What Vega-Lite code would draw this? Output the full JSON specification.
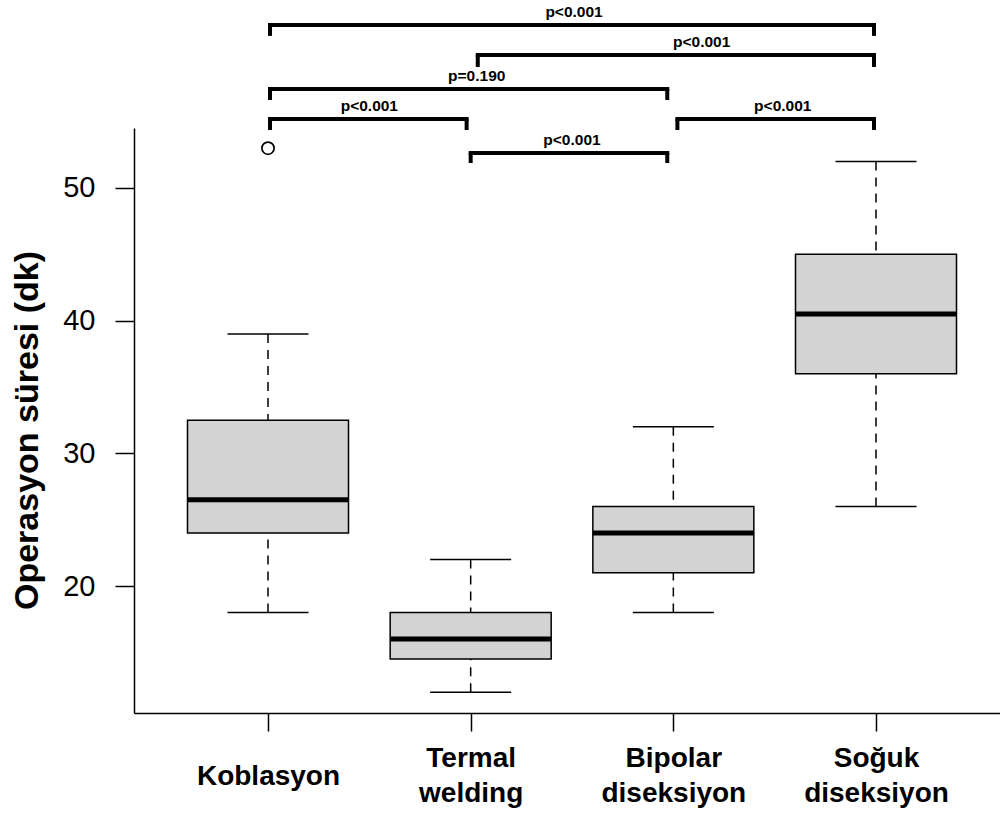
{
  "$schema": "https://vega.github.io/schema/vega-lite/v6.json",
  "width": 866,
  "height": 585,
  "autosize": {"type": "none"},
  "padding": {"left": 134, "top": 128, "right": 0, "bottom": 100},
  "background": "white",
  "config": {
    "view": {"stroke": null},
    "font": "Liberation Sans",
    "axisX": {
      "grid": false,
      "tickSize": 18,
      "tickColor": "black",
      "tickWidth": 1.5,
      "domainColor": "black",
      "domainWidth": 1.5,
      "labelFont": "Liberation Sans",
      "labelFontWeight": "bold",
      "labelFontSize": 28,
      "labelColor": "black",
      "labelLineHeight": 35,
      "labelBaseline": "middle",
      "labelFlush": false,
      "labelOverlap": false
    },
    "axisY": {
      "grid": false,
      "tickSize": 19,
      "tickColor": "black",
      "tickWidth": 1.5,
      "domainColor": "black",
      "domainWidth": 1.5,
      "labelFont": "Liberation Sans",
      "labelFontSize": 29,
      "labelColor": "black",
      "labelPadding": 20,
      "labelFlush": false,
      "titleFont": "Liberation Sans",
      "titleFontSize": 34,
      "titleFontWeight": "bold",
      "titleColor": "black",
      "titlePadding": 18
    }
  },
  "datasets": {
    "kutular": [
      {"grup": "Koblasyon", "pos": 1, "alt": 18, "q1": 24, "medyan": 26.5, "q3": 32.5, "ust": 39},
      {"grup": "Termal welding", "pos": 2, "alt": 12, "q1": 14.5, "medyan": 16, "q3": 18, "ust": 22},
      {"grup": "Bipolar diseksiyon", "pos": 3, "alt": 18, "q1": 21, "medyan": 24, "q3": 26, "ust": 32},
      {"grup": "Soğuk diseksiyon", "pos": 4, "alt": 26, "q1": 36, "medyan": 40.5, "q3": 45, "ust": 52}
    ],
    "aykiri": [
      {"grup": "Koblasyon", "pos": 1, "deger": 53}
    ],
    "karsilastirma": [
      {"x1": 1.01, "x2": 3.99, "h": 62.29, "uc": 61.46, "etiket": "p<0.001", "tx": 2.51},
      {"x1": 2.035, "x2": 3.99, "h": 60.02, "uc": 59.12, "etiket": "p<0.001", "tx": 3.14},
      {"x1": 1.01, "x2": 2.97, "h": 57.46, "uc": 56.63, "etiket": "p=0.190", "tx": 2.03},
      {"x1": 1.01, "x2": 1.98, "h": 55.2, "uc": 54.37, "etiket": "p<0.001", "tx": 1.5},
      {"x1": 2.0, "x2": 2.97, "h": 52.64, "uc": 51.88, "etiket": "p<0.001", "tx": 2.5},
      {"x1": 3.02, "x2": 3.99, "h": 55.2, "uc": 54.37, "etiket": "p<0.001", "tx": 3.54}
    ]
  },
  "layer": [
    {
      "data": {"name": "kutular"},
      "mark": {"type": "rule", "color": "black", "strokeWidth": 1.5, "strokeDash": [9, 7]},
      "encoding": {
        "x": {"field": "pos", "type": "quantitative", "title": null, "scale": {"domain": [0.3388, 4.6118], "nice": false, "zero": false, "padding": 0},
              "axis": {"values": [1, 2, 3, 4],
                       "labelPadding": {"condition": {"test": "datum.value == 1", "value": 45}, "value": 27},
                       "labelExpr": "datum.value == 1 ? 'Koblasyon' : datum.value == 2 ? ['Termal', 'welding'] : datum.value == 3 ? ['Bipolar', 'diseksiyon'] : ['Soğuk', 'diseksiyon']"}},
        "y": {"field": "alt", "type": "quantitative", "title": "Operasyon süresi (dk)", "scale": {"domain": [10.43, 54.52], "nice": false, "zero": false, "padding": 0},
              "axis": {"values": [20, 30, 40, 50], "titleY": 302}},
        "y2": {"field": "q1"}
      }
    },
    {
      "data": {"name": "kutular"},
      "mark": {"type": "rule", "color": "black", "strokeWidth": 1.5, "strokeDash": [9, 7]},
      "encoding": {
        "x": {"field": "pos", "type": "quantitative", "title": null, "scale": {"domain": [0.3388, 4.6118], "nice": false, "zero": false, "padding": 0}},
        "y": {"field": "ust", "type": "quantitative", "title": "Operasyon süresi (dk)", "scale": {"domain": [10.43, 54.52], "nice": false, "zero": false, "padding": 0}},
        "y2": {"field": "q3"}
      }
    },
    {
      "data": {"name": "kutular"},
      "mark": {"type": "tick", "orient": "horizontal", "size": 81, "thickness": 1.5, "color": "black", "opacity": 1},
      "encoding": {
        "x": {"field": "pos", "type": "quantitative", "title": null, "scale": {"domain": [0.3388, 4.6118], "nice": false, "zero": false, "padding": 0}},
        "y": {"field": "alt", "type": "quantitative", "title": "Operasyon süresi (dk)", "scale": {"domain": [10.43, 54.52], "nice": false, "zero": false, "padding": 0}}
      }
    },
    {
      "data": {"name": "kutular"},
      "mark": {"type": "tick", "orient": "horizontal", "size": 81, "thickness": 1.5, "color": "black", "opacity": 1},
      "encoding": {
        "x": {"field": "pos", "type": "quantitative", "title": null, "scale": {"domain": [0.3388, 4.6118], "nice": false, "zero": false, "padding": 0}},
        "y": {"field": "ust", "type": "quantitative", "title": "Operasyon süresi (dk)", "scale": {"domain": [10.43, 54.52], "nice": false, "zero": false, "padding": 0}}
      }
    },
    {
      "data": {"name": "kutular"},
      "mark": {"type": "bar", "size": 161, "fill": "#d3d3d3", "stroke": "black", "strokeWidth": 1.5},
      "encoding": {
        "x": {"field": "pos", "type": "quantitative", "title": null, "scale": {"domain": [0.3388, 4.6118], "nice": false, "zero": false, "padding": 0}},
        "y": {"field": "q1", "type": "quantitative", "title": "Operasyon süresi (dk)", "scale": {"domain": [10.43, 54.52], "nice": false, "zero": false, "padding": 0}},
        "y2": {"field": "q3"}
      }
    },
    {
      "data": {"name": "kutular"},
      "mark": {"type": "tick", "orient": "horizontal", "size": 161, "thickness": 5, "color": "black", "opacity": 1},
      "encoding": {
        "x": {"field": "pos", "type": "quantitative", "title": null, "scale": {"domain": [0.3388, 4.6118], "nice": false, "zero": false, "padding": 0}},
        "y": {"field": "medyan", "type": "quantitative", "title": "Operasyon süresi (dk)", "scale": {"domain": [10.43, 54.52], "nice": false, "zero": false, "padding": 0}}
      }
    },
    {
      "data": {"name": "aykiri"},
      "mark": {"type": "point", "shape": "circle", "size": 150, "filled": false, "stroke": "black", "strokeWidth": 1.7, "opacity": 1},
      "encoding": {
        "x": {"field": "pos", "type": "quantitative", "title": null, "scale": {"domain": [0.3388, 4.6118], "nice": false, "zero": false, "padding": 0}},
        "y": {"field": "deger", "type": "quantitative", "title": "Operasyon süresi (dk)", "scale": {"domain": [10.43, 54.52], "nice": false, "zero": false, "padding": 0}}
      }
    },
    {
      "data": {"name": "karsilastirma"},
      "mark": {"type": "rule", "color": "black", "strokeWidth": 4, "strokeCap": "square"},
      "encoding": {
        "x": {"field": "x1", "type": "quantitative", "title": null, "scale": {"domain": [0.3388, 4.6118], "nice": false, "zero": false, "padding": 0}},
        "x2": {"field": "x2"},
        "y": {"field": "h", "type": "quantitative", "title": "Operasyon süresi (dk)", "scale": {"domain": [10.43, 54.52], "nice": false, "zero": false, "padding": 0}}
      }
    },
    {
      "data": {"name": "karsilastirma"},
      "mark": {"type": "rule", "color": "black", "strokeWidth": 4},
      "encoding": {
        "x": {"field": "x1", "type": "quantitative", "title": null, "scale": {"domain": [0.3388, 4.6118], "nice": false, "zero": false, "padding": 0}},
        "y": {"field": "h", "type": "quantitative", "title": "Operasyon süresi (dk)", "scale": {"domain": [10.43, 54.52], "nice": false, "zero": false, "padding": 0}},
        "y2": {"field": "uc"}
      }
    },
    {
      "data": {"name": "karsilastirma"},
      "mark": {"type": "rule", "color": "black", "strokeWidth": 4},
      "encoding": {
        "x": {"field": "x2", "type": "quantitative", "title": null, "scale": {"domain": [0.3388, 4.6118], "nice": false, "zero": false, "padding": 0}},
        "y": {"field": "h", "type": "quantitative", "title": "Operasyon süresi (dk)", "scale": {"domain": [10.43, 54.52], "nice": false, "zero": false, "padding": 0}},
        "y2": {"field": "uc"}
      }
    },
    {
      "data": {"name": "karsilastirma"},
      "mark": {"type": "text", "font": "Liberation Sans", "fontWeight": "bold", "fontSize": 15.5, "color": "black", "baseline": "alphabetic", "align": "center", "dy": -8},
      "encoding": {
        "x": {"field": "tx", "type": "quantitative", "title": null, "scale": {"domain": [0.3388, 4.6118], "nice": false, "zero": false, "padding": 0}},
        "y": {"field": "h", "type": "quantitative", "title": "Operasyon süresi (dk)", "scale": {"domain": [10.43, 54.52], "nice": false, "zero": false, "padding": 0}},
        "text": {"field": "etiket"}
      }
    }
  ]
}
